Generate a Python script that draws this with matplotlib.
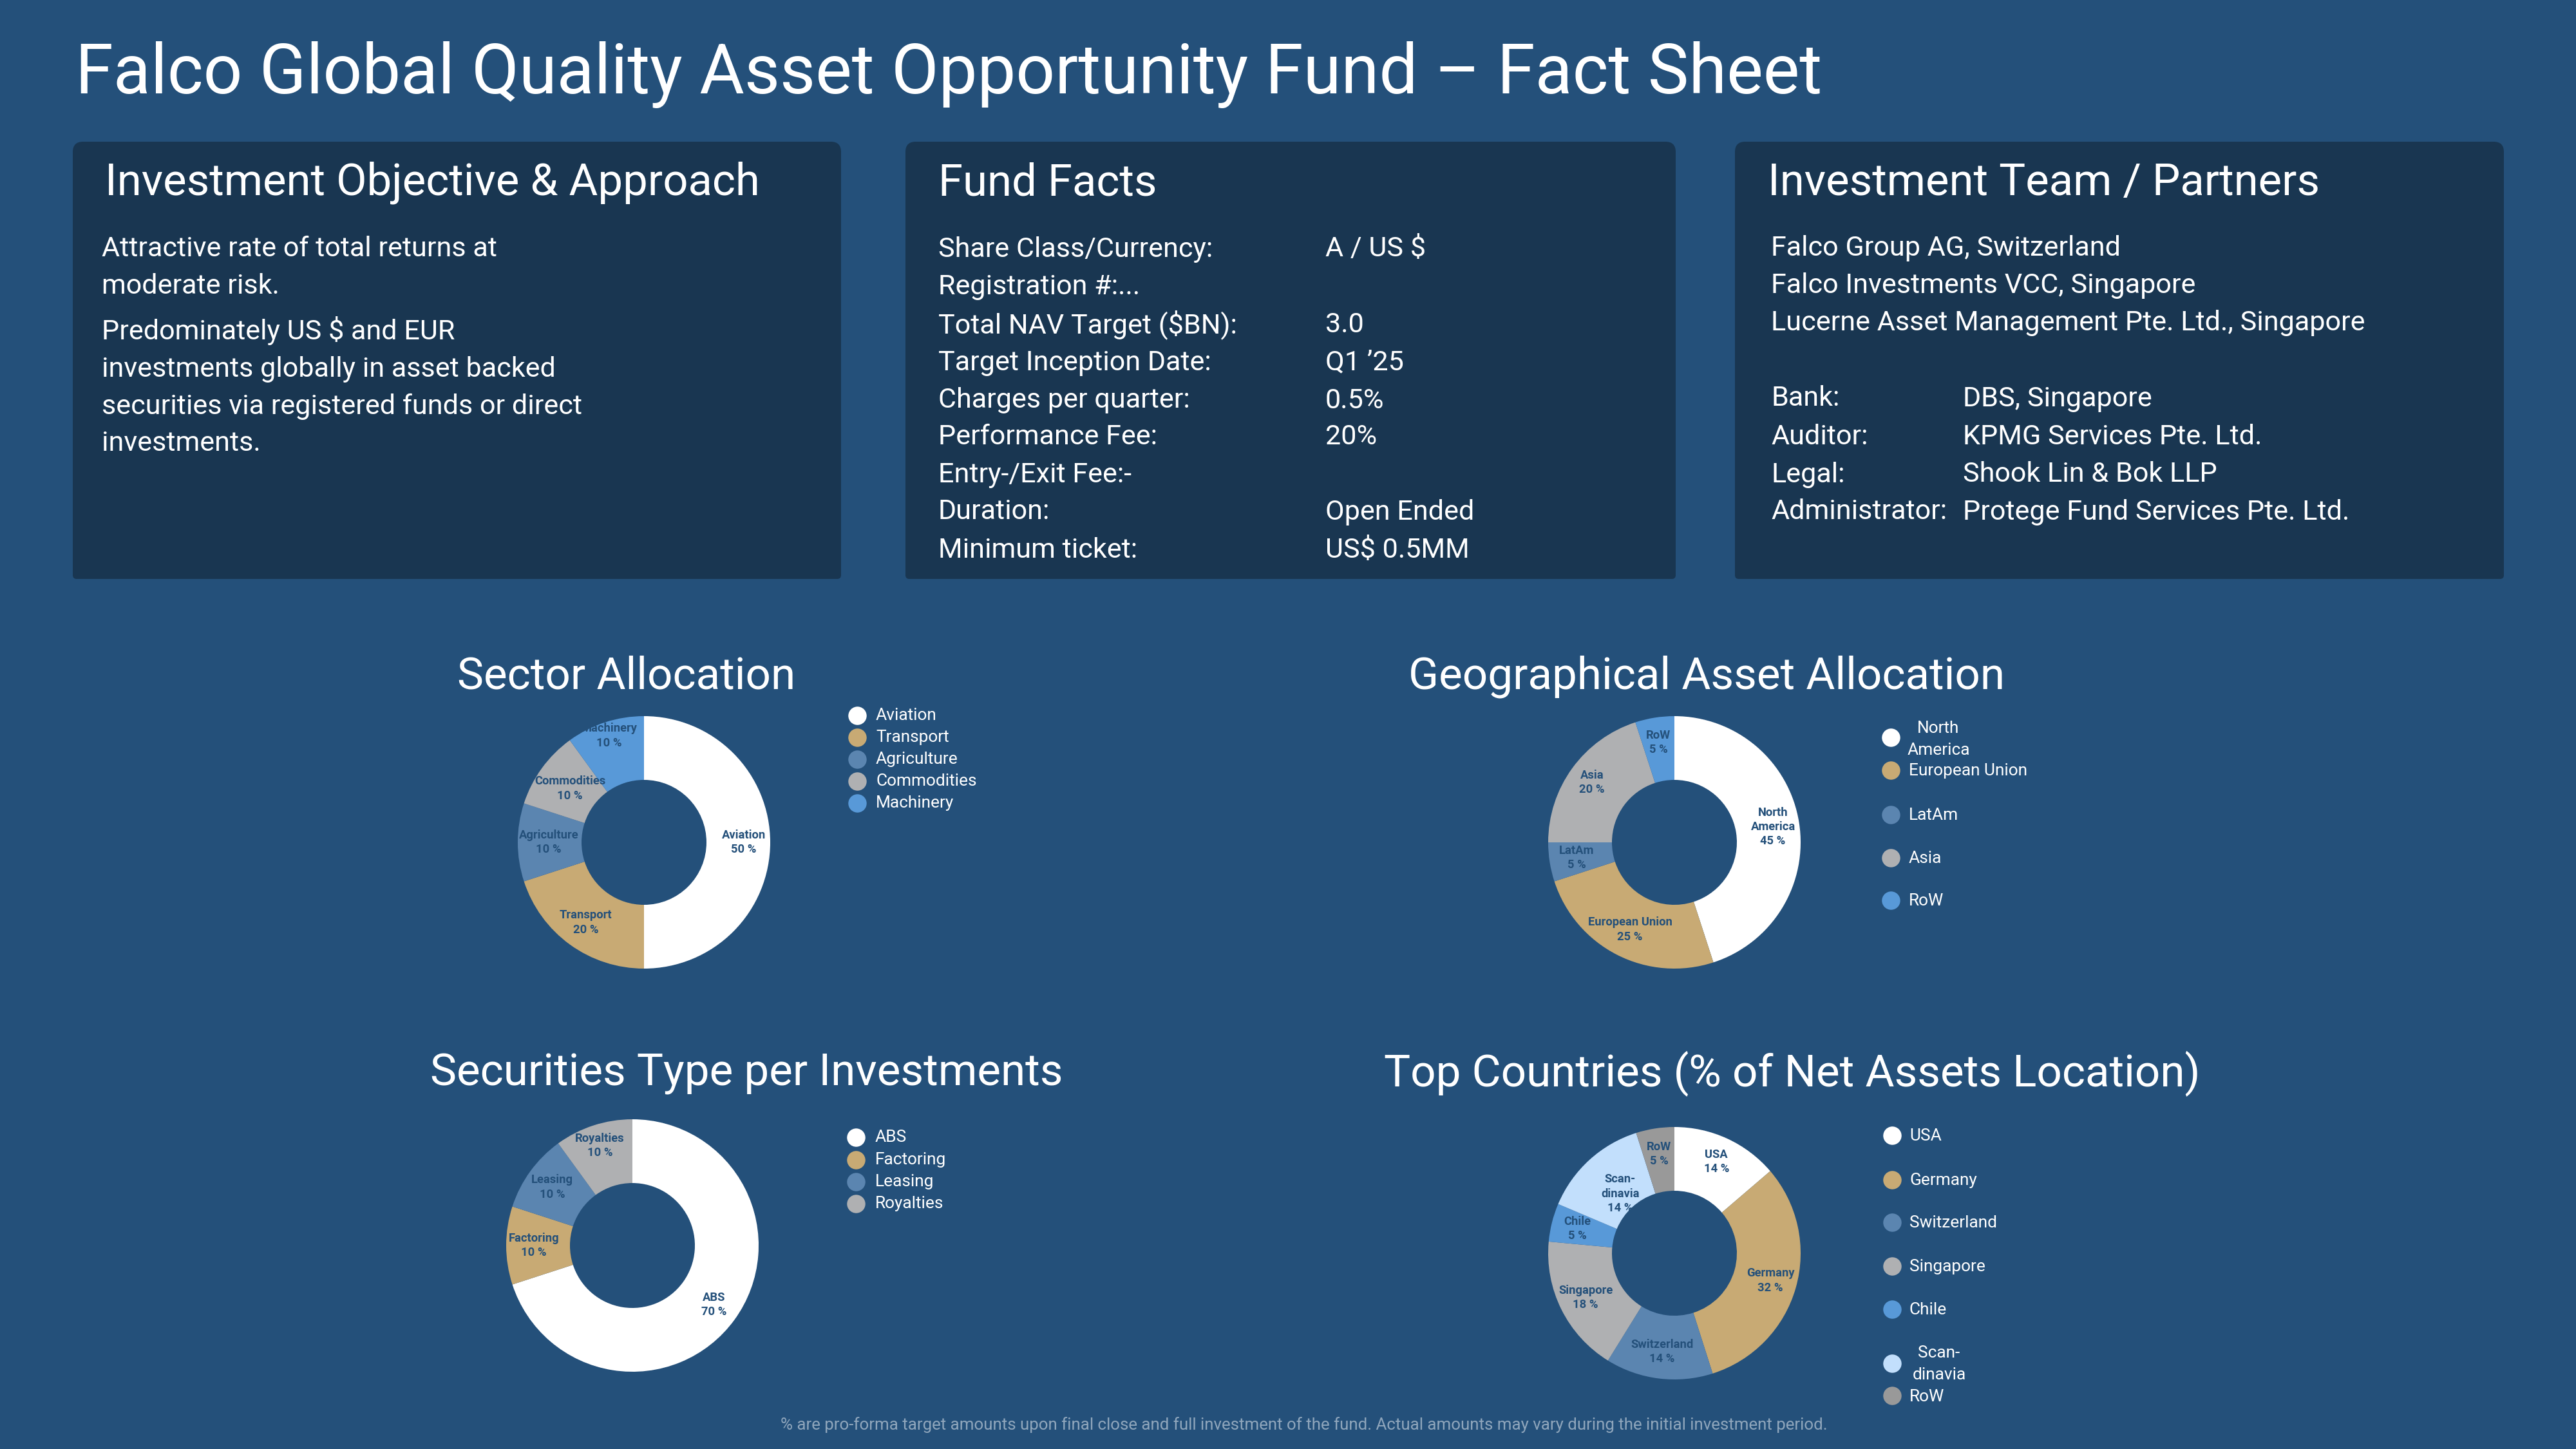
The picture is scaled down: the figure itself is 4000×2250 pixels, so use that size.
"""Falco fund fact sheet: panels on top, four donut charts below."""
import math

import matplotlib

matplotlib.use("Agg")
import matplotlib.pyplot as plt
from matplotlib.patches import FancyBboxPatch

W, H = 4000, 2250
BG = "#24507a"
PANEL = "#193651"
WHITE = "#ffffff"
FONT = ["Roboto", "DejaVu Sans"]

plt.rcParams["font.family"] = FONT

# Palette used by all donuts, in slice order
COLORS = ["#ffffff", "#c8aa74", "#5b85b0", "#afb0b2", "#5899d8"]
COUNTRY_COLORS = ["#ffffff", "#c8aa74", "#5b85b0", "#afb0b2", "#5899d8",
                  "#c2dffc", "#999999"]

# Donut data
sector_names = ["Aviation", "Transport", "Agriculture", "Commodities", "Machinery"]
sector_values = [50, 20, 10, 10, 10]

geo_names = ["North\nAmerica", "European Union", "LatAm", "Asia", "RoW"]
geo_values = [45, 25, 5, 20, 5]

security_names = ["ABS", "Factoring", "Leasing", "Royalties"]
security_values = [70, 10, 10, 10]

country_names = ["USA", "Germany", "Switzerland", "Singapore", "Chile",
                 "Scan-\ndinavia", "RoW"]
country_values = [14, 32, 14, 18, 5, 14, 5]

# Panel text
objective_lines = ["Attractive rate of total returns at", "moderate risk.",
                   "Predominately US $ and EUR", "investments globally in asset backed",
                   "securities via registered funds or direct", "investments."]
fact_labels = ["Share Class/Currency:", "Registration #:...", "Total NAV Target ($BN):",
               "Target Inception Date:", "Charges per quarter:", "Performance Fee:",
               "Entry-/Exit Fee:-", "Duration:", "Minimum ticket:"]
fact_values = ["A / US $", "", "3.0", "Q1 \u201925", "0.5%", "20%", "", "Open Ended",
               "US$ 0.5MM"]
team_lines = ["Falco Group AG, Switzerland", "Falco Investments VCC, Singapore",
              "Lucerne Asset Management Pte. Ltd., Singapore"]
partner_labels = ["Bank:", "Auditor:", "Legal:", "Administrator:"]
partner_values = ["DBS, Singapore", "KPMG Services Pte. Ltd.", "Shook Lin & Bok LLP",
                  "Protege Fund Services Pte. Ltd."]

# Layout, in reference pixels
TITLE_SIZE = 76.9
HEAD_SIZE = 49.6
BODY_SIZE = 31.1
SECTION_SIZE = 49.8
LEGEND_SIZE = 18.9
LABEL_SIZE = 13.2
RING_OUTER = 196
RING_INNER = 97

fig = plt.figure(figsize=(W / 100, H / 100), dpi=100, facecolor=BG)
canvas = fig.add_axes([0, 0, 1, 1])
canvas.set_xlim(0, W)
canvas.set_ylim(H, 0)
canvas.axis("off")


def put(x, y, s, size=BODY_SIZE, ha="left", color=WHITE, weight="normal", **kw):
    canvas.text(x, y, s, fontsize=size, ha=ha, va="center", color=color,
                fontweight=weight, **kw)


def panel(x0, x1, heading, head_x):
    top, split, bottom = 220, 337, 899
    canvas.add_patch(FancyBboxPatch((x0, top), x1 - x0, split - top,
                                    boxstyle="round,pad=0,rounding_size=16",
                                    fc=PANEL, ec="none"))
    canvas.add_patch(FancyBboxPatch((x0, split - 20), x1 - x0, bottom - split + 20,
                                    boxstyle="round,pad=0,rounding_size=6",
                                    fc=PANEL, ec="none"))
    put(head_x, 284, heading, size=HEAD_SIZE)


def donut(cx, cy, values, names, colors, radii):
    ax = fig.add_axes([(cx - RING_OUTER) / W, 1 - (cy + RING_OUTER) / H,
                       2 * RING_OUTER / W, 2 * RING_OUTER / H])
    wedges, _ = ax.pie(values, colors=colors, startangle=90, counterclock=False,
                       radius=1, wedgeprops=dict(width=1 - RING_INNER / RING_OUTER,
                                                 linewidth=0))
    ax.set_xlim(-1, 1)
    ax.set_ylim(-1, 1)
    for wedge, name, val, r in zip(wedges, names, values, radii):
        mid = math.radians((wedge.theta1 + wedge.theta2) / 2)
        ax.text(r / RING_OUTER * math.cos(mid), r / RING_OUTER * math.sin(mid),
                f"{name}\n{val} %", ha="center", va="center", fontsize=LABEL_SIZE,
                color=BG, fontweight="bold", linespacing=1.3, clip_on=False)


def legend(names, colors, xc, xt, marker_ys, text_ys):
    for name, color, my, ty in zip(names, colors, marker_ys, text_ys):
        canvas.scatter([xc], [my], s=420, color=color, linewidths=0, zorder=3)
        if "\n" in name:
            lines = name.split("\n")
            width_center = xt + 46
            put(width_center, ty - 17, lines[0], size=LEGEND_SIZE, ha="center")
            put(width_center, ty + 17, lines[1], size=LEGEND_SIZE, ha="center")
        else:
            put(xt, ty, name, size=LEGEND_SIZE)


put(117, 116, "Falco Global Quality Asset Opportunity Fund \u2013 Fact Sheet", size=TITLE_SIZE)

panel(113, 1306, "Investment Objective & Approach", 163)
panel(1406, 2602, "Fund Facts", 1457)
panel(2694, 3888, "Investment Team / Partners", 2745)

for y, line in zip([387, 445, 514, 573, 631, 689], objective_lines):
    put(158, y, line)

fact_ys = [387, 446, 504, 563, 622, 678, 737, 795, 854]
for y, lab, val in zip(fact_ys, fact_labels, fact_values):
    put(1457, y, lab)
    put(2058, y, val)

for y, line in zip([386, 443, 502], team_lines):
    put(2750, y, line)
for y, lab, val in zip([619, 678, 737, 795], partner_labels, partner_values):
    put(2750, y, lab)
    put(3048, y, val)

put(973, 1051, "Sector Allocation", size=SECTION_SIZE, ha="center")
put(2650, 1051, "Geographical Asset Allocation", size=SECTION_SIZE, ha="center")
put(1159, 1667, "Securities Type per Investments", size=SECTION_SIZE, ha="center")
put(2783, 1667, "Top Countries (% of Net Assets Location)", size=SECTION_SIZE, ha="center")

donut(1000, 1308, sector_values, sector_names, COLORS, [155, 154, 148, 142, 174])
donut(2600, 1308, geo_values, geo_names, COLORS, [155, 152, 154, 158, 157])
donut(982, 1934, security_values, security_names, COLORS, [156, 153, 154, 163])
donut(2600, 1946, country_values, country_names, COUNTRY_COLORS,
      [156, 155, 154, 154, 155, 125, 156])

sector_ys = [1111, 1145, 1179, 1213, 1247]
legend(sector_names, COLORS, 1331, 1360, sector_ys, sector_ys)
legend(geo_names, COLORS, 2936, 2964, [1145, 1196, 1265, 1332, 1398],
       [1148, 1197, 1266, 1333, 1399])
security_ys = [1766, 1801, 1835, 1869]
legend(security_names, COLORS, 1329, 1359, security_ys, security_ys)
legend(country_names, COUNTRY_COLORS, 2938, 2965,
       [1763, 1832, 1898, 1966, 2033, 2117, 2167],
       [1764, 1833, 1899, 1967, 2034, 2118, 2169])

put(2025, 2213, "% are pro-forma target amounts upon final close and full investment of the "
    "fund. Actual amounts may vary during the initial investment period.",
    size=18.6, ha="center", color="#8fa6bc")

fig.savefig("out.png", dpi=100, facecolor=BG)
plt.close(fig)
